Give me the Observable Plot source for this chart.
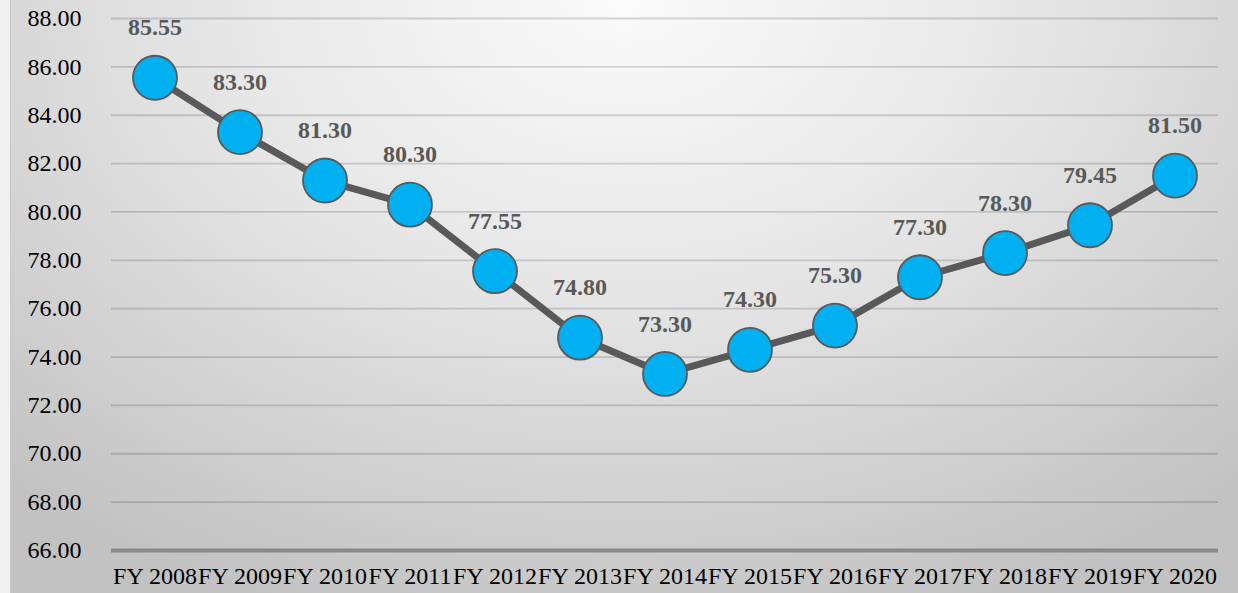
<!DOCTYPE html>
<html>
<head>
<meta charset="utf-8">
<script src="https://cdn.jsdelivr.net/npm/d3@7"></script>
<script src="https://cdn.jsdelivr.net/npm/@observablehq/plot@0.6"></script>
<style>
  html, body { margin: 0; padding: 0; background: #f0f0f0; width: 1238px; height: 593px; overflow: hidden; }
  #bg { position: absolute; left: 10px; top: 0; width: 1228px; height: 593px;
        background: radial-gradient(ellipse 75% 110% at 50% 0%, #fbfbfb 0%, #e6e6e6 45%, #c2c2c2 100%);
        border-left: 1px solid #c8c8c8; box-sizing: border-box; }
  #chart { position: absolute; left: 0; top: 0; }
  #chart svg { background: transparent; }
</style>
</head>
<body>
<div id="bg"></div>
<div id="chart"></div>
<script>
const years = ["FY 2008","FY 2009","FY 2010","FY 2011","FY 2012","FY 2013","FY 2014","FY 2015","FY 2016","FY 2017","FY 2018","FY 2019","FY 2020"];
const values = [85.55, 83.30, 81.30, 80.30, 77.55, 74.80, 73.30, 74.30, 75.30, 77.30, 78.30, 79.45, 81.50];
const yTicks = [66, 68, 70, 72, 74, 76, 78, 80, 82, 84, 86, 88];

const data = years.map((year, i) => ({year, value: values[i]}));

const chart = Plot.plot({
  width: 1238,
  height: 593,
  marginLeft: 111,
  marginRight: 20,
  marginTop: 18,
  marginBottom: 43,
  style: {background: "transparent", fontFamily: "'Liberation Serif', serif", fontSize: "24px", color: "#000"},
  x: {type: "band", domain: years, padding: 0, label: null},
  y: {domain: [66, 88], label: null},
  marks: [
    Plot.ruleY(yTicks.filter(d => d > 66), {stroke: "#000", strokeOpacity: 0.15, strokeWidth: 1.8}),
    Plot.ruleY([66], {stroke: "#8a8a8a", strokeWidth: 4}),
    Plot.axisY({ticks: yTicks, tickSize: 0, tickPadding: 30, tickFormat: d => d.toFixed(2), fill: "#000", fontSize: 24}),
    Plot.axisX({tickSize: 0, tickPadding: 16, fill: "#000", fontSize: 24}),
    Plot.line(data, {x: "year", y: "value", stroke: "#595959", strokeWidth: 7}),
    Plot.dot(data, {x: "year", y: "value", r: 22, fill: "#00B0F0", stroke: "#595959", strokeWidth: 1.8}),
    Plot.text(data, {x: "year", y: "value", text: d => d.value.toFixed(2), dy: -50, fill: "#595959", fontSize: 24, fontWeight: "bold"})
  ]
});
document.getElementById("chart").appendChild(chart);
</script>
</body>
</html>
